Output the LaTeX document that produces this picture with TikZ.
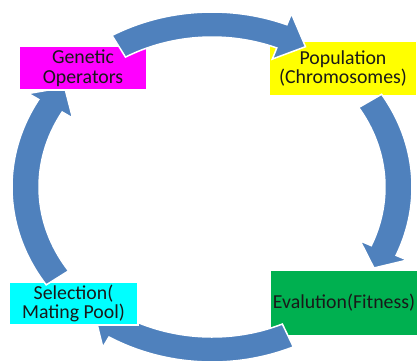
\documentclass[tikz,border=0pt]{standalone}
\usepackage{fontspec}
\setmainfont{Carlito}
\usetikzlibrary{calc}
\definecolor{arrow_blue}{HTML}{4F81BD}
\definecolor{box_magenta}{HTML}{FF00FF}
\definecolor{box_yellow}{HTML}{FFFF00}
\definecolor{box_green}{HTML}{00B050}
\definecolor{box_cyan}{HTML}{00FFFF}

% curved block arrow round the hub: #1 tail angle, #2 barb angle, #3 tip angle
\newcommand{\cyclearrow}[3]{%
  \filldraw[cycle arrow] ($(hub)+(#1:200 and 175)$)
    arc[start angle=#1, end angle=#2, x radius=200, y radius=175]
    -- ($(hub)+(#2:212 and 187)$) -- ($(hub)+(#3:187 and 162)$)
    -- ($(hub)+(#2:161 and 138)$) -- ($(hub)+(#2:173 and 150)$)
    arc[start angle=#2, end angle=#1, x radius=173, y radius=150] -- cycle;}

\begin{document}
\begin{tikzpicture}[x=1pt, y=-1pt,
    every node/.style={font=\fontsize{19.8}{19.5}\selectfont},
    stage/.style={rectangle, draw=white, line width=1.5pt, align=center,
      inner sep=0pt, text=black!90},
    cycle arrow/.style={fill=arrow_blue, draw=white, line width=1.5pt, line join=miter}]

    \useasboundingbox (0,0) rectangle (417,360);
    \clip (0,0) rectangle (417,360);
    \coordinate (hub) at (212,187);

    % Population and the arrow down to Evaluation
    \node[stage, fill=box_yellow, minimum width=148, minimum height=55] (pop)
      at (343,68.5) {Population\\(Chromosomes)};
    \cyclearrow{-32}{23}{30}

    % Evaluation and the arrow over to Selection
    \node[stage, fill=box_green, minimum width=148, minimum height=66] (eval)
      at (344,303) {Evalution(Fitness)};
    \cyclearrow{66}{121}{129}

    % Selection and the arrow up to the operators
    \node[stage, fill=box_cyan, minimum width=129, minimum height=43] (sel)
      at (73.5,303.5) {Selection(\\Mating Pool)};
    \cyclearrow{146}{210}{218}

    % Genetic Operators and the arrow back to Population
    \node[stage, fill=box_magenta, minimum width=128, minimum height=44] (gen)
      at (83,68) {Genetic\\Operators};
    \cyclearrow{-120}{-68}{-60}

  \end{tikzpicture}
\end{document}
